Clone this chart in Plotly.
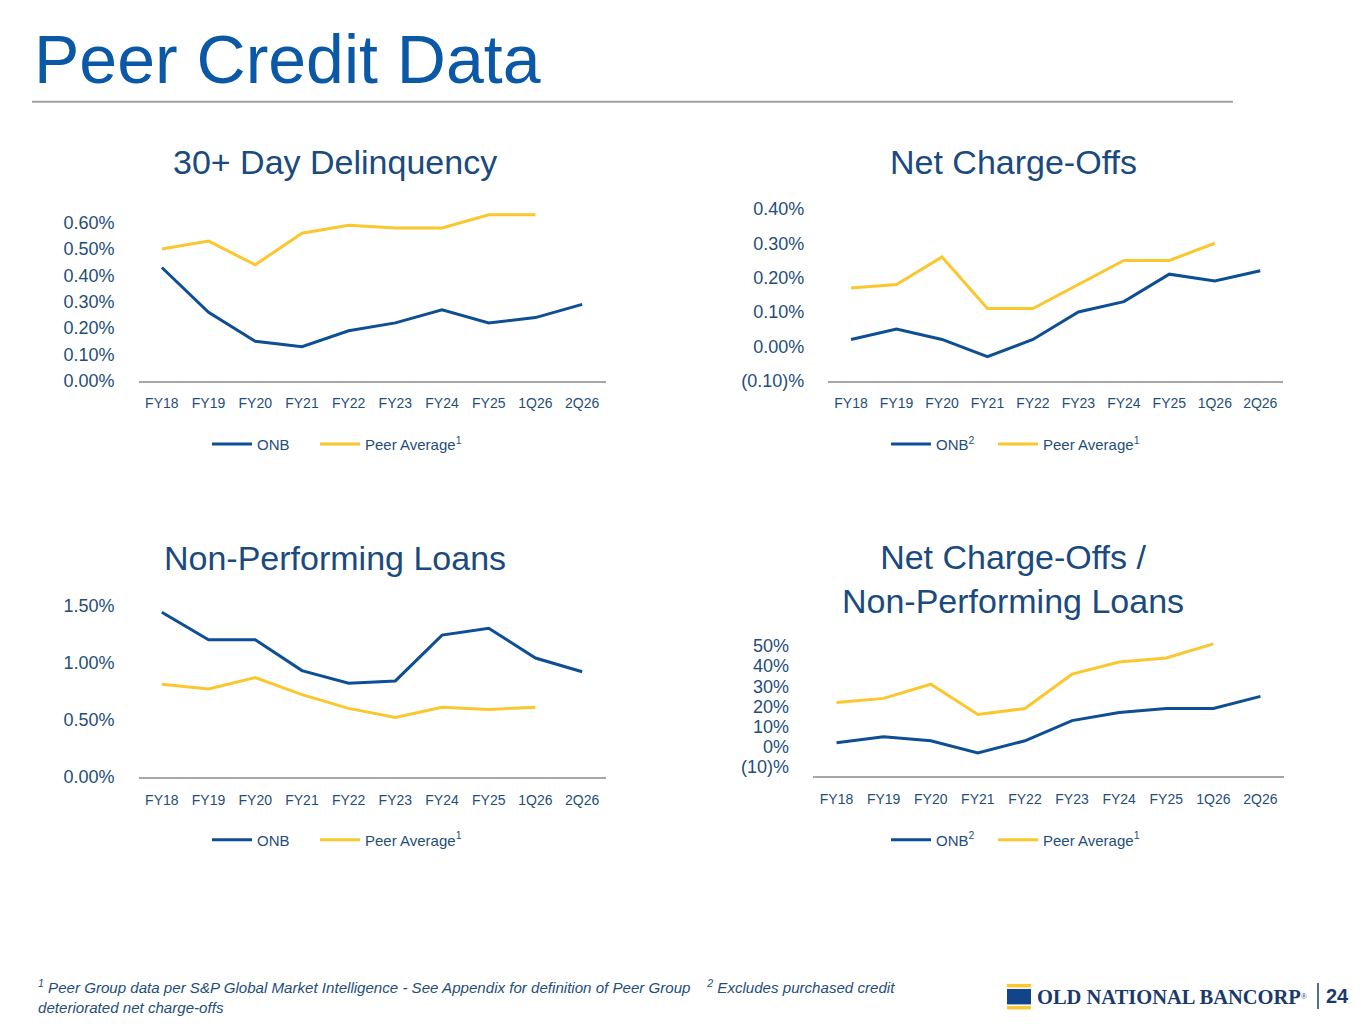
import plotly.graph_objects as go

PAGE_W, PAGE_H = 1365, 1024
BODY_MARGIN = 8
W, H = PAGE_W - 2 * BODY_MARGIN, PAGE_H - BODY_MARGIN
# observed vertical mapping of the photographed page (screen y = OFF + SQ * page y)
SQ, OFF = 0.987, 3.4

# ---------------- data ----------------
categories = ["FY18", "FY19", "FY20", "FY21", "FY22", "FY23", "FY24", "FY25", "1Q26", "2Q26"]

delinq_onb = [0.43, 0.26, 0.15, 0.13, 0.19, 0.22, 0.27, 0.22, 0.24, 0.29]
delinq_peer = [0.50, 0.53, 0.44, 0.56, 0.59, 0.58, 0.58, 0.63, 0.63, None]

nco_onb = [0.02, 0.05, 0.02, -0.03, 0.02, 0.10, 0.13, 0.21, 0.19, 0.22]
nco_peer = [0.17, 0.18, 0.26, 0.11, 0.11, 0.18, 0.25, 0.25, 0.30, None]

npl_onb = [1.44, 1.20, 1.20, 0.93, 0.82, 0.84, 1.24, 1.30, 1.04, 0.92]
npl_peer = [0.81, 0.77, 0.87, 0.72, 0.60, 0.52, 0.61, 0.59, 0.61, None]

ratio_onb = [2, 5, 3, -3, 3, 13, 17, 19, 19, 25]
ratio_peer = [22, 24, 31, 16, 19, 36, 42, 44, 51, None]

delinq_tickvals = [0.0, 0.1, 0.2, 0.3, 0.4, 0.5, 0.6]
delinq_ticktext = ["0.00%", "0.10%", "0.20%", "0.30%", "0.40%", "0.50%", "0.60%"]
nco_tickvals = [-0.1, 0.0, 0.1, 0.2, 0.3, 0.4]
nco_ticktext = ["(0.10)%", "0.00%", "0.10%", "0.20%", "0.30%", "0.40%"]
npl_tickvals = [0.0, 0.5, 1.0, 1.5]
npl_ticktext = ["0.00%", "0.50%", "1.00%", "1.50%"]
ratio_tickvals = [-10, 0, 10, 20, 30, 40, 50]
ratio_ticktext = ["(10)%", "0%", "10%", "20%", "30%", "40%", "50%"]

chart_titles = ["30+ Day Delinquency", "Net Charge-Offs",
                "Non-Performing Loans", "Net Charge-Offs /<br>Non-Performing Loans"]
onb_names = ["ONB", "ONB<sup>2</sup>", "ONB", "ONB<sup>2</sup>"]
peer_name = "Peer Average<sup>1</sup>"

# ---------------- styling ----------------
FONT = "Arial, Liberation Sans, sans-serif"
ONB_COLOR = "#0D4E94"
PEER_COLOR = "#FBC72E"
TICK_COLOR = "#1F4E79"
TITLE_COLOR = "#1A4A7E"
AXIS_COLOR = "#A6A6A6"


def px(x):
    """screen pixel x -> paper fraction"""
    return (x - BODY_MARGIN) / W


def py(y):
    """screen pixel y -> paper fraction"""
    page_y = (y - OFF) / SQ
    return 1 - (page_y - BODY_MARGIN) / H


# panel geometry in screen pixels: left, right, bottom, px-per-unit, ymin, ymax
panels = [
    dict(l=138.5, r=605.5, b=380.5, ppu=264.0, ymin=0.0, ymax=0.68,
         tv=delinq_tickvals, tt=delinq_ticktext, onb=delinq_onb, peer=delinq_peer,
         title_x=335, title_y=161, leg1_x=212, leg2_x=320, leg_y=444),
    dict(l=828.3, r=1283.0, b=380.3, ppu=344.0, ymin=-0.10, ymax=0.45,
         tv=nco_tickvals, tt=nco_ticktext, onb=nco_onb, peer=nco_peer,
         title_x=1013, title_y=161, leg1_x=891, leg2_x=998, leg_y=444),
    dict(l=138.5, r=605.5, b=777.0, ppu=114.6, ymin=0.0, ymax=1.6,
         tv=npl_tickvals, tt=npl_ticktext, onb=npl_onb, peer=npl_peer,
         title_x=335, title_y=558, leg1_x=212, leg2_x=320, leg_y=840),
    dict(l=813.0, r=1284.0, b=776.0, ppu=2.02, ymin=-14.5, ymax=53.0,
         tv=ratio_tickvals, tt=ratio_ticktext, onb=ratio_onb, peer=ratio_peer,
         title_x=1013, title_y=579, leg1_x=891, leg2_x=998, leg_y=840),
]

fig = go.Figure()
layout = dict(
    width=W, height=H,
    margin=dict(l=0, r=0, t=0, b=0),
    paper_bgcolor="white", plot_bgcolor="rgba(0,0,0,0)",
    font=dict(family=FONT, color=TICK_COLOR),
    showlegend=True,
)
annotations = []
shapes = []


def legend_box(x_line_start, y_center):
    return dict(
        x=px(x_line_start - 5), y=py(y_center), xanchor="left", yanchor="middle",
        orientation="h", bgcolor="rgba(0,0,0,0)", borderwidth=0, itemwidth=40,
        font=dict(size=15, color=TICK_COLOR, family=FONT))


for i, p in enumerate(panels):
    n = "" if i == 0 else str(i + 1)
    xa, ya = "x" + n, "y" + n
    leg_a = "legend" + ("" if i == 0 else str(2 * i + 1))
    leg_b = "legend" + str(2 * i + 2)
    top = p["b"] - (p["ymax"] - p["ymin"]) * p["ppu"]
    fig.add_trace(go.Scatter(
        x=categories, y=p["onb"], mode="lines", name=onb_names[i],
        line=dict(color=ONB_COLOR, width=3), xaxis=xa, yaxis=ya, legend=leg_a,
        connectgaps=False, hoverinfo="skip"))
    fig.add_trace(go.Scatter(
        x=categories, y=p["peer"], mode="lines", name=peer_name,
        line=dict(color=PEER_COLOR, width=3), xaxis=xa, yaxis=ya, legend=leg_b,
        connectgaps=False, hoverinfo="skip"))
    layout["xaxis" + n] = dict(
        domain=[px(p["l"]), px(p["r"])], anchor=ya, type="category",
        range=[-0.5, len(categories) - 0.5],
        showline=True, linecolor=AXIS_COLOR, linewidth=1.5,
        showgrid=False, zeroline=False, ticks="",
        tickfont=dict(size=14, color=TICK_COLOR, family=FONT),
        ticklabelstandoff=9, fixedrange=True)
    layout["yaxis" + n] = dict(
        domain=[py(p["b"]), py(top)], anchor=xa,
        range=[p["ymin"], p["ymax"]],
        tickvals=p["tv"], ticktext=p["tt"],
        showline=False, showgrid=False, zeroline=False, ticks="",
        tickfont=dict(size=18, color=TICK_COLOR, family=FONT),
        ticklabelstandoff=23, fixedrange=True)
    layout[leg_a] = legend_box(p["leg1_x"], p["leg_y"])
    layout[leg_b] = legend_box(p["leg2_x"], p["leg_y"])
    annotations.append(dict(
        text=chart_titles[i], x=px(p["title_x"]), y=py(p["title_y"]),
        xref="paper", yref="paper", xanchor="center", yanchor="middle",
        showarrow=False, align="center",
        font=dict(size=34, color=TITLE_COLOR, family=FONT)))

# page title
annotations.append(dict(
    text="Peer Credit Data", x=px(32), y=py(58), xref="paper", yref="paper",
    xanchor="left", yanchor="middle", showarrow=False,
    font=dict(size=68, color="#0A58A6", family=FONT)))
shapes.append(dict(type="line", xref="paper", yref="paper",
                   x0=px(32), x1=px(1233), y0=py(101), y1=py(101),
                   line=dict(color="#A0A0A0", width=2)))

# footnotes
annotations.append(dict(
    text=("<i><sup>1</sup> Peer Group data per S&amp;P Global Market Intelligence - See Appendix "
          "for definition of Peer Group\u00a0\u00a0\u00a0\u00a0<sup>2</sup> Excludes purchased credit"
          "<br>deteriorated net charge-offs</i>"),
    x=px(36), y=py(997), xref="paper", yref="paper", xanchor="left", yanchor="middle",
    showarrow=False, align="left",
    font=dict(size=15.1, color=TICK_COLOR, family=FONT)))

# logo
LOGO_BLUE = "#12448A"
LOGO_NAVY = "#1B3A6B"
for (y0, y1, c) in [(984, 987.5, PEER_COLOR), (989, 1004.5, LOGO_BLUE), (1006, 1009.5, PEER_COLOR)]:
    shapes.append(dict(type="rect", xref="paper", yref="paper",
                       x0=px(1007), x1=px(1031), y0=py(y1), y1=py(y0),
                       fillcolor=c, line=dict(width=0)))
annotations.append(dict(
    text="<b>OLD NATIONAL BANCORP</b><span style='font-size:11px'><sup>®</sup></span>",
    x=px(1035), y=py(997),
    xref="paper", yref="paper", xanchor="left", yanchor="middle", showarrow=False,
    font=dict(size=20.5, color=LOGO_NAVY, family="Liberation Serif, Times New Roman, serif")))
shapes.append(dict(type="line", xref="paper", yref="paper",
                   x0=px(1318), x1=px(1318), y0=py(1009), y1=py(983),
                   line=dict(color=LOGO_NAVY, width=1.5)))
annotations.append(dict(
    text="<b>24</b>", x=px(1324), y=py(996), xref="paper", yref="paper",
    xanchor="left", yanchor="middle", showarrow=False,
    font=dict(size=20, color=LOGO_NAVY, family=FONT)))

layout["annotations"] = annotations
layout["shapes"] = shapes
fig.update_layout(**layout)

fig.write_html("out.html")
